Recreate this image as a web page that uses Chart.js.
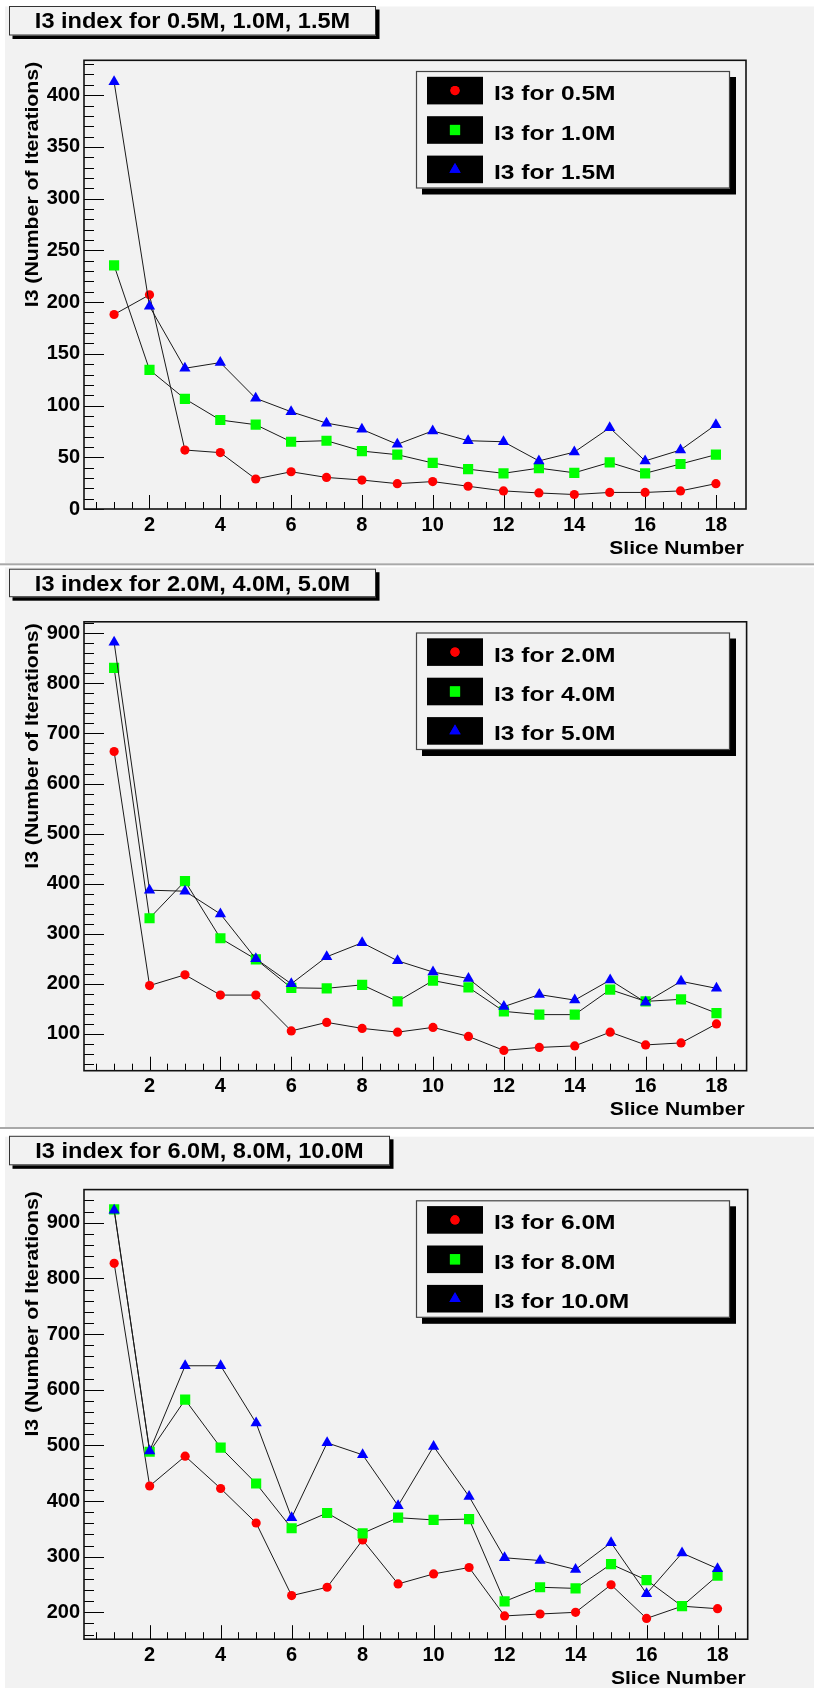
<!DOCTYPE html>
<html>
<head>
<meta charset="utf-8">
<title>I3 index per slice</title>
<script src="https://cdn.jsdelivr.net/npm/chart.js@4.4.1/dist/chart.umd.min.js"></script>
<style>
  html, body { margin: 0; padding: 0; background: #ffffff; }
  #wrap { position: relative; width: 814px; height: 1688px; overflow: hidden; }
  #wrap canvas { position: absolute; left: 0; }
</style>
</head>
<body>
<div id="wrap">
  <canvas id="c1" width="814" height="563" style="top:0px"></canvas>
  <canvas id="c2" width="814" height="564" style="top:563px"></canvas>
  <canvas id="c3" width="814" height="561" style="top:1127px"></canvas>
</div>
<script>
// ---- data -------------------------------------------------------------
const slices = [1, 2, 3, 4, 5, 6, 7, 8, 9, 10, 11, 12, 13, 14, 15, 16, 17, 18];
const xTickLabels = [2, 4, 6, 8, 10, 12, 14, 16, 18];

// panel 1: 0.5M, 1.0M, 1.5M
const i3_05M = [188, 207, 57, 54.5, 29, 36, 30.5, 28, 24.5, 26.5, 22, 17.5, 15.5, 14, 16, 16, 17.5, 24.5];
const i3_10M = [235.5, 134.5, 106.5, 86, 81.5, 65, 66, 56, 52.5, 44.5, 38.5, 34.5, 39.5, 35, 45, 34.5, 43.5, 52.5];
const i3_15M = [413, 196, 136, 141.5, 107, 94, 83, 77, 62.5, 75.5, 66, 65, 46.5, 55, 78.5, 46.5, 57, 81.5];
const yTicks1 = [0, 50, 100, 150, 200, 250, 300, 350, 400];

// panel 2: 2.0M, 4.0M, 5.0M
const i3_20M = [664, 196.5, 218, 177.5, 177.5, 106, 123, 111, 103.5, 113, 95, 67, 73, 76, 103.5, 78, 82, 120];
const i3_40M = [831, 331, 405, 291, 249, 192, 191, 198, 165, 206.5, 193, 145, 138.5, 138.5, 188.5, 165, 169, 141.5];
const i3_50M = [882, 387, 385, 339.5, 250, 200, 254, 282, 246, 223.5, 210.5, 154.5, 178.5, 167.5, 207.5, 163, 205, 191];
const yTicks2 = [100, 200, 300, 400, 500, 600, 700, 800, 900];

// panel 3: 6.0M, 8.0M, 10.0M
const i3_60M = [827, 427, 480.5, 422.5, 360.5, 230, 245, 330, 251, 269, 280.5, 193.5, 197, 200, 249.5, 189, 211, 206.5];
const i3_80M = [924, 488.5, 582, 496, 431.5, 351, 378.5, 342, 370, 366, 367.5, 219.5, 245, 243, 286.5, 258, 211, 266];
const i3_100M = [922.5, 490, 643, 643, 540, 370, 504.5, 483, 391.5, 498, 408, 298, 293, 277, 325, 233.5, 306.5, 278.5];
const yTicks3 = [200, 300, 400, 500, 600, 700, 800, 900];

const titles = [
  'I3 index for 0.5M, 1.0M, 1.5M',
  'I3 index for 2.0M, 4.0M, 5.0M',
  'I3 index for 6.0M, 8.0M, 10.0M'
];
const seriesNames1 = ['I3 for 0.5M', 'I3 for 1.0M', 'I3 for 1.5M'];
const seriesNames2 = ['I3 for 2.0M', 'I3 for 4.0M', 'I3 for 5.0M'];
const seriesNames3 = ['I3 for 6.0M', 'I3 for 8.0M', 'I3 for 10.0M'];
const yTitle = 'I3 (Number of Iterations)';
const xTitle = 'Slice Number';

// ---- style ------------------------------------------------------------
const FONT = '"Liberation Sans", Arial, Helvetica, sans-serif';
const PAD_GREY = '#f2f2f2';
const markerStyles = [
  { color: '#ff0000', pointStyle: 'circle', radius: 4.6 },
  { color: '#00ff00', pointStyle: 'rect', radius: 7.2 },
  { color: '#0000ff', pointStyle: 'triangle', radius: 6.5 }
];

function stretchedText(ctx, text, x, y, font, sx, align) {
  ctx.save();
  ctx.font = font;
  ctx.fillStyle = '#000';
  ctx.textBaseline = 'alphabetic';
  const w = ctx.measureText(text).width * sx;
  let left = x;
  if (align === 'center') left = x - w / 2;
  else if (align === 'right') left = x - w;
  ctx.translate(left, y);
  ctx.scale(sx, 1);
  ctx.textAlign = 'left';
  ctx.fillText(text, 0, 0);
  ctx.restore();
}

// Draws the ROOT-like pad: background, separator, title box, frame, inner ticks,
// axis titles and the shadowed legend.
const padPlugin = {
  id: 'rootPad',
  beforeDraw(chart) {
    const p = chart.options.plugins.rootPad;
    const ctx = chart.ctx;
    const W = chart.width, H = chart.height;
    ctx.save();
    ctx.fillStyle = '#ffffff';
    ctx.fillRect(0, 0, W, H);
    ctx.fillStyle = PAD_GREY;
    ctx.fillRect(5, p.greyTop, W - 5, p.greyBottom - p.greyTop);
    if (p.sepTop !== null) {
      ctx.fillStyle = '#a9a9a9';
      ctx.fillRect(0, p.sepTop, W, 2);
    }
    // title box with shadow
    const b = p.titleBox;
    ctx.fillStyle = '#000';
    ctx.fillRect(b.x + 3.5, b.y + 3.5, b.w, b.h);
    ctx.fillStyle = PAD_GREY;
    ctx.fillRect(b.x, b.y, b.w, b.h);
    ctx.strokeStyle = '#333';
    ctx.lineWidth = 1;
    ctx.strokeRect(b.x + 0.5, b.y + 0.5, b.w - 1, b.h - 1);
    ctx.restore();
    stretchedText(ctx, p.title, b.x + b.w / 2, b.y + 22.3, 'bold 22px ' + FONT, 1.07, 'center');
  },
  beforeDatasetsDraw(chart) {
    const p = chart.options.plugins.rootPad;
    const { ctx, chartArea: a, scales } = chart;
    const xs = scales.x, ys = scales.y;
    ctx.save();
    ctx.strokeStyle = '#000';
    ctx.lineWidth = 1;
    ctx.beginPath();
    // x ticks: minor every 0.5, major at labelled values
    for (let v = 0.5; v < xs.max; v += 0.5) {
      const px = Math.round(xs.getPixelForValue(v)) + 0.5;
      const len = xTickLabels.includes(v) ? 14 : 7;
      ctx.moveTo(px, a.bottom);
      ctx.lineTo(px, a.bottom - len);
    }
    // y ticks: minor subdivisions, major at labelled values
    const step = p.yMinorStep;
    for (let v = Math.ceil(ys.min / step) * step; v <= ys.max; v += step) {
      const py = Math.round(ys.getPixelForValue(v)) + 0.5;
      const len = p.yTicks.includes(v) ? 20 : 10;
      ctx.moveTo(a.left, py);
      ctx.lineTo(a.left + len, py);
    }
    ctx.stroke();
    // frame
    ctx.lineWidth = 1.6;
    ctx.strokeStyle = '#111';
    ctx.strokeRect(a.left, a.top, a.right - a.left, a.bottom - a.top);
    ctx.restore();

    // axis titles
    stretchedText(ctx, xTitle, a.right - 2, a.bottom + 44.5, 'bold 19px ' + FONT, 1.11, 'right');
    ctx.save();
    ctx.font = 'bold 18px ' + FONT;
    ctx.fillStyle = '#000';
    ctx.translate(37.5, a.top + 1.5);
    ctx.rotate(-Math.PI / 2);
    ctx.scale(1.18, 1);
    ctx.textAlign = 'right';
    ctx.textBaseline = 'alphabetic';
    ctx.fillText(yTitle, 0, 0);
    ctx.restore();
  },
  afterDatasetsDraw(chart) {
    const { ctx, chartArea: a } = chart;
    const lx = 416, lw = 314, ly = a.top + 10.7, lh = 117.5;
    ctx.save();
    ctx.fillStyle = '#000';
    ctx.fillRect(lx + 6, ly + 6, lw, lh);
    ctx.fillStyle = PAD_GREY;
    ctx.fillRect(lx, ly, lw, lh);
    ctx.strokeStyle = '#444';
    ctx.lineWidth = 1.2;
    ctx.strokeRect(lx + 0.5, ly + 0.5, lw - 1, lh - 1);
    chart.data.datasets.forEach((ds, i) => {
      const cy = a.top + 30.3 + i * 39.4;
      ctx.fillStyle = '#000';
      ctx.fillRect(427, cy - 13.8, 56, 27.6);
      ctx.fillStyle = ds.pointBackgroundColor;
      ctx.strokeStyle = ds.pointBackgroundColor;
      Chart.helpers.drawPoint(ctx, {
        pointStyle: ds.pointStyle, radius: ds.pointRadius, borderWidth: 0, rotation: 0
      }, 455, cy);
      ctx.fill();
    });
    ctx.restore();
    chart.data.datasets.forEach((ds, i) => {
      const cy = a.top + 30.3 + i * 39.4;
      stretchedText(ctx, ds.label, 494, cy + 9.5, 'bold 21px ' + FONT, 1.17, 'left');
    });
  }
};

function makePanel(canvasId, cfg) {
  const H = cfg.height;
  const datasets = cfg.series.map((vals, i) => ({
    label: cfg.names[i],
    data: slices.map((s, k) => ({ x: s, y: vals[k] })),
    borderColor: '#1a1a1a',
    borderWidth: 1,
    tension: 0,
    fill: false,
    pointStyle: markerStyles[i].pointStyle,
    pointRadius: markerStyles[i].radius,
    pointHoverRadius: markerStyles[i].radius,
    pointBackgroundColor: markerStyles[i].color,
    pointBorderColor: markerStyles[i].color,
    pointBorderWidth: 0,
    order: 2 - i
  }));
  const tickFont = { family: FONT, size: 20, weight: 'bold' };
  return new Chart(document.getElementById(canvasId), {
    type: 'line',
    data: { datasets },
    options: {
      responsive: false,
      animation: false,
      devicePixelRatio: 1,
      events: [],
      layout: { padding: { left: 0, top: cfg.frameTop, right: 814 - cfg.frameRight, bottom: 0 } },
      scales: {
        x: {
          type: 'linear',
          min: 0.15,
          max: 18.85,
          grid: { display: false, drawTicks: false },
          border: { display: false },
          afterBuildTicks: (s) => { s.ticks = xTickLabels.map(v => ({ value: v })); },
          afterFit: (s) => { s.height = H - cfg.frameBottom; },
          ticks: { font: tickFont, color: '#000', padding: 4, maxRotation: 0, autoSkip: false }
        },
        y: {
          type: 'linear',
          min: cfg.yMin,
          max: cfg.yMax,
          grid: { display: false, drawTicks: false },
          border: { display: false },
          afterBuildTicks: (s) => { s.ticks = cfg.yTicks.map(v => ({ value: v })); },
          afterFit: (s) => { s.width = 84; },
          ticks: { font: tickFont, color: '#000', padding: 4, autoSkip: false }
        }
      },
      plugins: {
        legend: { display: false },
        tooltip: { enabled: false },
        rootPad: {
          title: cfg.title,
          titleBox: cfg.titleBox,
          greyTop: cfg.greyTop,
          greyBottom: cfg.greyBottom,
          sepTop: cfg.sepTop,
          yTicks: cfg.yTicks,
          yMinorStep: cfg.yMinorStep
        }
      }
    },
    plugins: [padPlugin]
  });
}

makePanel('c1', {
  height: 563, frameTop: 60.3, frameBottom: 509, frameRight: 746,
  yMin: 0, yMax: 433.7, yTicks: yTicks1, yMinorStep: 10,
  series: [i3_05M, i3_10M, i3_15M], names: seriesNames1, title: titles[0],
  titleBox: { x: 9, y: 6, w: 367, h: 29.5 },
  greyTop: 6.5, greyBottom: 563, sepTop: null
});
makePanel('c2', {
  height: 564, frameTop: 58.8, frameBottom: 507.7, frameRight: 746.6,
  yMin: 26.5, yMax: 923, yTicks: yTicks2, yMinorStep: 20,
  series: [i3_20M, i3_40M, i3_50M], names: seriesNames2, title: titles[1],
  titleBox: { x: 9, y: 5.7, w: 367, h: 28.5 },
  greyTop: 4.3, greyBottom: 564, sepTop: 0.3
});
makePanel('c3', {
  height: 561, frameTop: 62.6, frameBottom: 512.2, frameRight: 747.7,
  yMin: 151.7, yMax: 959.5, yTicks: yTicks3, yMinorStep: 20,
  series: [i3_60M, i3_80M, i3_100M], names: seriesNames3, title: titles[2],
  titleBox: { x: 9, y: 8.8, w: 381, h: 29.5 },
  greyTop: 9.7, greyBottom: 561, sepTop: 0
});
</script>
</body>
</html>
